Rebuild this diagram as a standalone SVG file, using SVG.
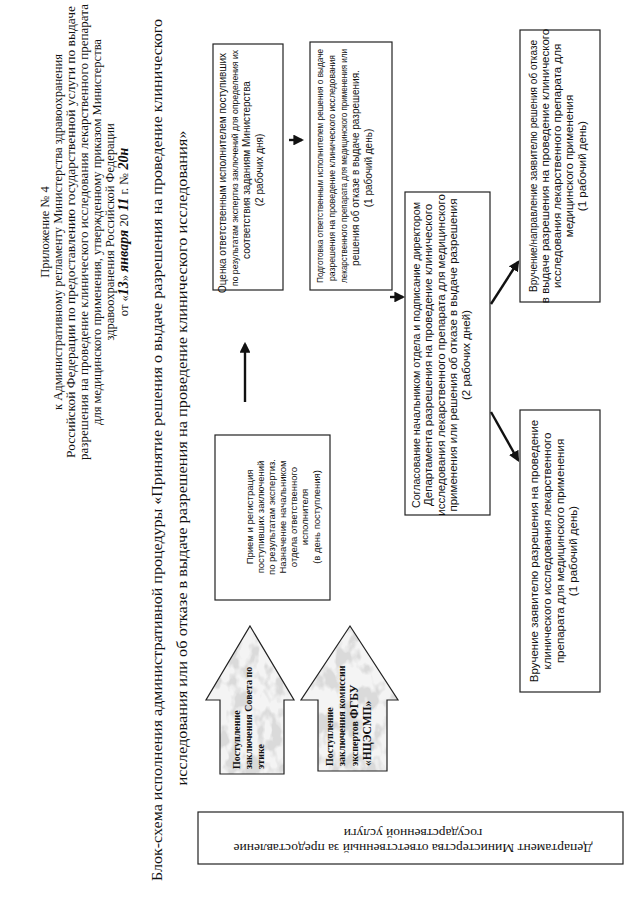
<svg xmlns="http://www.w3.org/2000/svg" width="640" height="905" viewBox="0 0 640 905">
<style>
.hdr{font-family:"Liberation Serif","Times New Roman",serif;font-size:12.5px;fill:#111}
.ttl{font-family:"Liberation Serif","Times New Roman",serif;font-size:15.5px;fill:#111}
.bx{font-family:"Liberation Sans",Arial,sans-serif;font-size:10px;fill:#111}
.bl{font-family:"Liberation Sans",Arial,sans-serif;font-size:11.5px;fill:#111}
.box{fill:#fff;stroke:#222;stroke-width:1.2}
.arw{font-family:"Liberation Serif","Times New Roman",serif;font-size:10px;font-weight:bold;fill:#111}
.hand{font-family:"Liberation Serif",serif;font-style:italic;font-weight:bold;font-size:14px;fill:#111}
.con{stroke:#111;stroke-width:2.4;fill:none}
</style>
<defs>
<marker id="ah" viewBox="0 0 10 10" refX="8" refY="5" markerWidth="4.5" markerHeight="4.5" orient="auto" markerUnits="strokeWidth">
<path d="M0,0 L10,5 L0,10 Z" fill="#111"/>
</marker>
<filter id="mottle" x="0" y="0" width="1" height="1">
<feTurbulence type="fractalNoise" baseFrequency="0.07 0.045" numOctaves="3" seed="11" result="n"/>
<feColorMatrix in="n" type="matrix" values="0 0 0 0 0.7  0 0 0 0 0.7  0 0 0 0 0.7  6 0 0 0 -2.8" result="g"/>
<feComposite in="g" in2="SourceAlpha" operator="in" result="m"/>
<feMerge><feMergeNode in="SourceGraphic"/><feMergeNode in="m"/></feMerge>
</filter>
</defs>
<rect width="640" height="905" fill="#fff"/>

<g id="header">
<text class="hdr" text-anchor="middle" transform="translate(49,232) rotate(-90)">Приложение № 4</text>
<text class="hdr" text-anchor="middle" transform="translate(62,232) rotate(-90)">к Административному регламенту Министерства здравоохранения</text>
<text class="hdr" text-anchor="middle" transform="translate(75,232) rotate(-90)" textLength="452" lengthAdjust="spacingAndGlyphs">Российской Федерации по  предоставлению государственной услуги по выдаче</text>
<text class="hdr" text-anchor="middle" transform="translate(88,232) rotate(-90)" textLength="456" lengthAdjust="spacingAndGlyphs">разрешения на проведение клинического исследования  лекарственного препарата</text>
<text class="hdr" text-anchor="middle" transform="translate(101,232) rotate(-90)">для медицинского применения, утвержденному приказом Министерства</text>
<text class="hdr" text-anchor="middle" transform="translate(114,232) rotate(-90)">здравоохранения Российской Федерации</text>
<text class="hdr" text-anchor="middle" transform="translate(128,232) rotate(-90)">от «<tspan class="hand">13</tspan>» <tspan class="hand">января</tspan> 20 <tspan class="hand">11</tspan> г. № <tspan class="hand">20н</tspan></text>
</g>

<g id="title">
<text class="ttl" text-anchor="middle" transform="translate(162,450) rotate(-90)" textLength="862" lengthAdjust="spacingAndGlyphs">Блок-схема исполнения административной процедуры «Принятие решения о выдаче разрешения на проведение клинического</text>
<text class="ttl" text-anchor="middle" transform="translate(187,458) rotate(-90)" textLength="655" lengthAdjust="spacingAndGlyphs">исследования или об отказе в выдаче разрешения на проведение клинического исследования»</text>
</g>

<g id="dept">
<rect class="box" x="198" y="812" width="425" height="52"/>
<text class="hdr" style="font-size:13.5px" text-anchor="middle" transform="translate(413,844) rotate(180)">Департамент Министерства ответственный за предоставление</text>
<text class="hdr" style="font-size:13.5px" text-anchor="middle" transform="translate(413,829) rotate(180)">государственной услуги</text>
</g>

<g id="arrow1">
<path d="M250,626 L294,700 L284,700 L284,774 L220,774 L220,700 L206,700 Z" fill="#f4f4f4" filter="url(#mottle)"/>
<path d="M250,626 L294,700 L284,700 L284,774 L220,774 L220,700 L206,700 Z" fill="none" stroke="#222" stroke-width="1.2"/>
<text class="arw" transform="translate(240,769) rotate(-90)">Поступление</text>
<text class="arw" transform="translate(252,769) rotate(-90)">заключения Совета по</text>
<text class="arw" transform="translate(264,769) rotate(-90)">этике</text>
</g>

<g id="arrow2">
<path d="M350,626 L398,700 L387,700 L387,771 L318,771 L318,700 L301,700 Z" fill="#f4f4f4" filter="url(#mottle)"/>
<path d="M350,626 L398,700 L387,700 L387,771 L318,771 L318,700 L301,700 Z" fill="none" stroke="#222" stroke-width="1.2"/>
<text class="arw" transform="translate(333,766) rotate(-90)">Поступление</text>
<text class="arw" transform="translate(345,766) rotate(-90)">заключения комиссии</text>
<text class="arw" transform="translate(358,766) rotate(-90)">экспертов <tspan font-size="12">ФГБУ</tspan></text>
<text class="arw" transform="translate(371,766) rotate(-90)"><tspan font-size="11.5">«НЦЭСМП»</tspan></text>
</g>

<g id="reception">
<rect class="box" x="215" y="435" width="115" height="165"/>
<text class="bx" style="font-size:9.5px" text-anchor="middle" transform="translate(253,517) rotate(-90)">Прием и регистрация</text>
<text class="bx" style="font-size:9.5px" text-anchor="middle" transform="translate(264,517) rotate(-90)">поступивших заключений</text>
<text class="bx" style="font-size:9.5px" text-anchor="middle" transform="translate(275,517) rotate(-90)">по результатам экспертиз.</text>
<text class="bx" style="font-size:9.5px" text-anchor="middle" transform="translate(286,517) rotate(-90)">Назначение начальником</text>
<text class="bx" style="font-size:9.5px" text-anchor="middle" transform="translate(297,517) rotate(-90)">отдела ответственного</text>
<text class="bx" style="font-size:9.5px" text-anchor="middle" transform="translate(308,517) rotate(-90)">исполнителя</text>
<text class="bx" style="font-size:9.5px" text-anchor="middle" transform="translate(320,517) rotate(-90)">(в день поступления)</text>
</g>

<g id="evaluation">
<rect class="box" x="213" y="44" width="70" height="246"/>
<text class="bx" text-anchor="middle" transform="translate(226,173) rotate(-90)">Оценка ответственным исполнителем  поступивших</text>
<text class="bx" style="font-size:9px" text-anchor="middle" transform="translate(238,168) rotate(-90)" textLength="236" lengthAdjust="spacingAndGlyphs">по результатам экспертиз заключений для определения их</text>
<text class="bx" text-anchor="middle" transform="translate(250,170) rotate(-90)">соответствия заданиям Министерства</text>
<text class="bx" text-anchor="middle" transform="translate(263,170) rotate(-90)">(2 рабочих дня)</text>
</g>

<g id="preparation">
<rect class="box" x="310" y="42" width="82" height="248"/>
<text class="bx" style="font-size:9px" text-anchor="middle" transform="translate(323,166) rotate(-90)" textLength="234" lengthAdjust="spacingAndGlyphs">Подготовка ответственным исполнителем решения о выдаче</text>
<text class="bx" style="font-size:9.5px" text-anchor="middle" transform="translate(335,168) rotate(-90)" textLength="226" lengthAdjust="spacingAndGlyphs">разрешения на проведение клинического исследования</text>
<text class="bx" style="font-size:8.6px" text-anchor="middle" transform="translate(347,166) rotate(-90)" textLength="234" lengthAdjust="spacingAndGlyphs">лекарственного препарата для медицинского применения или</text>
<text class="bx" text-anchor="middle" transform="translate(359,168) rotate(-90)">решения об отказе в выдаче разрешения.</text>
<text class="bx" text-anchor="middle" transform="translate(372,168) rotate(-90)">(1 рабочий день)</text>
</g>

<g id="agreement">
<rect class="box" x="405" y="192" width="85" height="323"/>
<text class="bl" text-anchor="middle" transform="translate(420,355) rotate(-90)" textLength="306" lengthAdjust="spacingAndGlyphs">Согласование начальником отдела и подписание директором</text>
<text class="bl" text-anchor="middle" transform="translate(432,355) rotate(-90)">Департамента разрешения на проведение клинического</text>
<text class="bl" text-anchor="middle" transform="translate(445,355) rotate(-90)">исследования лекарственного препарата для медицинского</text>
<text class="bl" text-anchor="middle" transform="translate(457,355) rotate(-90)">применения или решения об отказе в выдаче разрешения</text>
<text class="bl" text-anchor="middle" transform="translate(470,355) rotate(-90)">(2 рабочих дней)</text>
</g>

<g id="refusal">
<rect class="box" x="520" y="30" width="80" height="272"/>
<text class="bl" text-anchor="middle" transform="translate(537,166) rotate(-90)" textLength="252" lengthAdjust="spacingAndGlyphs">Вручение/направление  заявителю решения об отказе</text>
<text class="bl" text-anchor="middle" transform="translate(549,166) rotate(-90)">в выдаче разрешения на проведение клинического</text>
<text class="bl" text-anchor="middle" transform="translate(561,166) rotate(-90)">исследования лекарственного препарата для</text>
<text class="bl" text-anchor="middle" transform="translate(573,166) rotate(-90)">медицинского применения</text>
<text class="bl" text-anchor="middle" transform="translate(586,166) rotate(-90)">(1 рабочий день)</text>
</g>

<g id="permission">
<rect class="box" x="520" y="410" width="80" height="282"/>
<text class="bl" text-anchor="middle" transform="translate(538,551) rotate(-90)">Вручение заявителю разрешения на проведение</text>
<text class="bl" text-anchor="middle" transform="translate(551,551) rotate(-90)">клинического исследования лекарственного</text>
<text class="bl" text-anchor="middle" transform="translate(564,551) rotate(-90)">препарата для медицинского применения</text>
<text class="bl" text-anchor="middle" transform="translate(577,551) rotate(-90)">(1 рабочий день)</text>
</g>

<g id="connectors">
<line class="con" x1="245" y1="402" x2="245" y2="344" marker-end="url(#ah)"/>
<line class="con" x1="289" y1="140" x2="302" y2="140" marker-end="url(#ah)"/>
<line class="con" x1="390" y1="297" x2="403" y2="297" marker-end="url(#ah)"/>
<line class="con" x1="491" y1="304" x2="518" y2="262" marker-end="url(#ah)"/>
<line class="con" x1="491" y1="412" x2="518" y2="460" marker-end="url(#ah)"/>
</g>
</svg>
